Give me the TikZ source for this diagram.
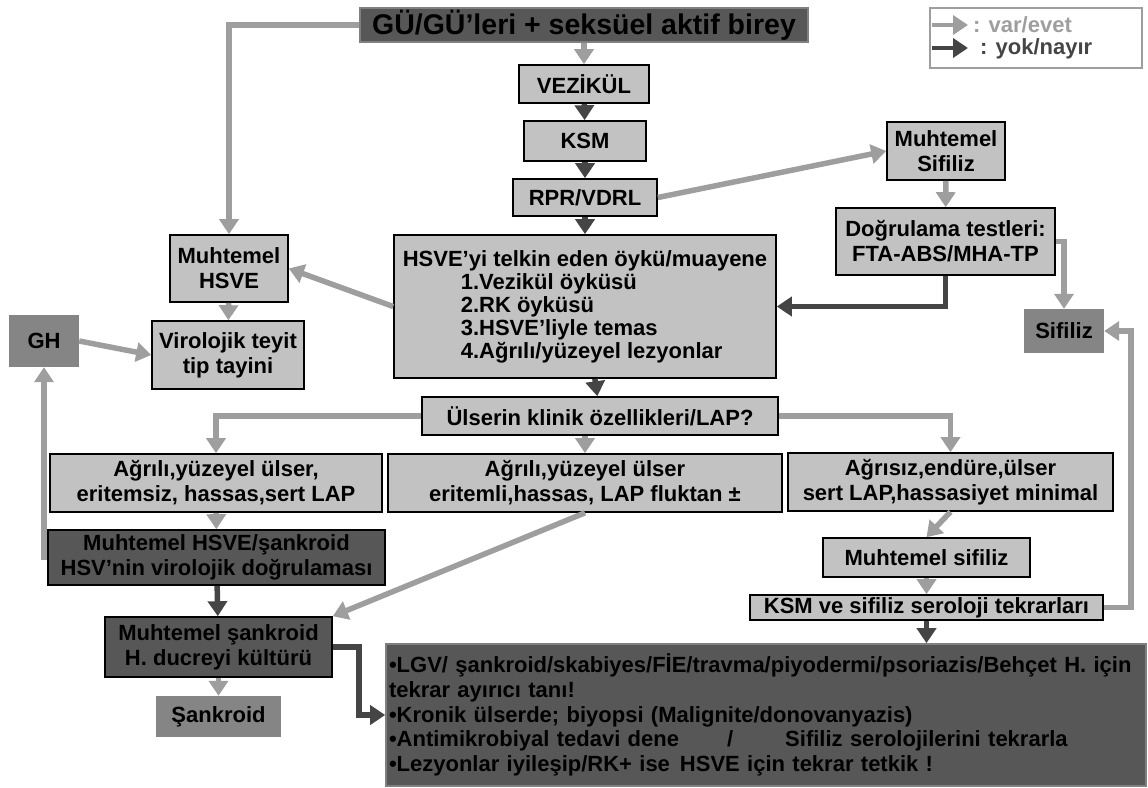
\documentclass[tikz,border=0pt]{standalone}
\usepackage{fontspec}
\setmainfont{Liberation Sans}
\usetikzlibrary{arrows.meta,positioning}
\definecolor{lightfill}{gray}{0.76}
\definecolor{darkfill}{gray}{0.34}
\definecolor{midfill}{gray}{0.52}
\definecolor{yesgray}{gray}{0.62}
\definecolor{nogray}{gray}{0.27}
\begin{document}
\begin{tikzpicture}[x=1pt,y=-1pt,font=\bfseries\fontsize{22}{25}\selectfont,
  lbox/.style={draw=black,line width=1.6pt,fill=lightfill,align=center,inner sep=0pt},
  dbox/.style={lbox,fill=darkfill},
  mbox/.style={fill=midfill,align=center,inner sep=0pt},
  ya/.style={yesgray,line width=5.5pt,-{Triangle[width=19pt,length=15pt]}},
  no/.style={ya,nogray}]
\useasboundingbox (0,0) rectangle (1148,787);
% legend
\draw[yesgray,line width=1.2pt] (930,8) rectangle (1142,68);
\coordinate (ly0) at (932,25); \coordinate (ly1) at (968,25);
\coordinate (ln0) at (932,48); \coordinate (ln1) at (968,48);
\draw[ya,line width=4pt] (ly0) -- (ly1);
\draw[no,line width=4pt] (ln0) -- (ln1);
\node[anchor=west,inner sep=0pt,yesgray,font=\bfseries\fontsize{22}{22}\selectfont] (lyes) at (973,25) {: var/evet};
\node[anchor=west,inner sep=0pt,nogray,font=\bfseries\fontsize{22}{22}\selectfont] (lno) at (980,49) {: yok/nayır};
% boxes
\node[dbox,draw=gray,minimum width=448,minimum height=34,font=\bfseries\fontsize{28.5}{30}\selectfont] (top) at (584,25) {GÜ/GÜ’leri + seksüel aktif birey};
\node[lbox,minimum width=130,minimum height=38] (vez) at (584,84) {VEZİKÜL};
\node[lbox,minimum width=122,minimum height=40] (ksm) at (585,141) {KSM};
\node[lbox,minimum width=144,minimum height=37] (rpr) at (585,197.5) {RPR/VDRL};
\node[lbox,minimum width=382,minimum height=143,align=left,font=\bfseries\fontsize{22}{23}\selectfont] (hsve) at (585,306.5)
  {HSVE’yi telkin eden öykü/muayene\\ \hspace*{58pt}1.Vezikül öyküsü\\ \hspace*{58pt}2.RK öyküsü\\
   \hspace*{58pt}3.HSVE’liyle temas\\ \hspace*{58pt}4.Ağrılı/yüzeyel lezyonlar};
\node[lbox,minimum width=118,minimum height=58] (msif) at (946,151) {Muhtemel\\Sifiliz};
\node[lbox,minimum width=219,minimum height=67] (dogr) at (945.5,241.5) {Doğrulama testleri:\\FTA-ABS/MHA-TP};
\node[mbox,minimum width=80,minimum height=44] (sif) at (1064,331) {Sifiliz};
\node[lbox,minimum width=118,minimum height=67] (mhsve) at (229,268.5) {Muhtemel\\HSVE};
\node[lbox,minimum width=152,minimum height=68] (viro) at (228,355) {Virolojik teyit\\tip tayini};
\node[mbox,minimum width=70,minimum height=52] (gh) at (44,341) {GH};
\node[lbox,minimum width=356,minimum height=38] (ulser) at (600,416) {Ülserin klinik özellikleri/LAP?};
\node[lbox,minimum width=332,minimum height=58] (b1) at (216,483) {Ağrılı,yüzeyel ülser,\\eritemsiz, hassas,sert LAP};
\node[lbox,minimum width=394,minimum height=58] (b2) at (585,483) {Ağrılı,yüzeyel ülser\\eritemli,hassas, LAP fluktan ±};
\node[lbox,minimum width=325,minimum height=58] (b3) at (950.5,482) {Ağrısız,endüre,ülser\\sert LAP,hassasiyet minimal};
\node[dbox,minimum width=337,minimum height=55] (mhs) at (216.5,557.5) {Muhtemel HSVE/şankroid\\HSV’nin virolojik doğrulaması};
\node[lbox,minimum width=207,minimum height=39] (msif2) at (926.5,557.5) {Muhtemel sifiliz};
\node[lbox,minimum width=353,minimum height=25] (ksm2) at (926.5,607.5) {KSM ve sifiliz seroloji tekrarları};
\node[dbox,minimum width=227,minimum height=60] (msank) at (218.5,647) {Muhtemel şankroid\\H. ducreyi kültürü};
\node[mbox,minimum width=125,minimum height=41] (sank) at (218.5,716.5) {Şankroid};
\node[dbox,draw=gray,minimum width=760,minimum height=142,text width=754pt,align=left,
  font=\bfseries\fontsize{22}{24.7}\selectfont] (big) at (766,715)
  {•LGV/ şankroid/skabiyes/FİE/travma/piyodermi/psoriazis/Behçet H. için\\
   tekrar ayırıcı tanı!\\
   •Kronik ülserde; biyopsi (Malignite/donovanyazis)\\
   •Antimikrobiyal tedavi dene\hspace{48pt}/\hspace{52pt}Sifiliz serolojilerini tekrarla\\
   •Lezyonlar iyileşip/RK+ ise\hspace{10pt}HSVE için tekrar tetkik !};
% connectors
\draw[ya] (top.west) -| (mhsve.north);
\draw[ya] (top) -- (vez);
\draw[no] (vez) -- (ksm);
\draw[no] (ksm) -- (rpr);
\draw[no] (rpr) -- (hsve);
\draw[ya] (rpr.east) -- (msif.west);
\draw[ya] (msif) -- (dogr);
\draw[ya] (dogr.east) -| (sif.north);
\draw[no] (dogr.south) |- (hsve.east);
\draw[ya] (hsve.west) -- (mhsve.east);
\draw[ya] (mhsve) -- (viro);
\draw[ya] (gh.east) -- (viro.west);
\draw[no] (hsve) -- (ulser);
\draw[ya] (ulser.west) -| (b1.north);
\draw[ya] (b2.north |- ulser.south) -- (b2.north);
\draw[ya] (ulser.east) -| (b3.north);
\draw[ya] (b1) -- (mhs);
\draw[ya] (mhs.west) -| (gh.south);
\draw[no] (mhs) -- (msank);
\draw[ya] (b2.south) -- (msank.north east);
\draw[ya] (b3.south) -- (msif2.north);
\draw[ya] (msif2) -- (ksm2);
\draw[ya] (ksm2.east) -- ++(27,0) |- (sif.east);
\draw[no] (ksm2.south) -- (ksm2.south |- big.north);
\draw[no] (msank.east) -- ++(26,0) |- (big.west);
\draw[ya] (msank) -- (sank);
\end{tikzpicture}
\end{document}
